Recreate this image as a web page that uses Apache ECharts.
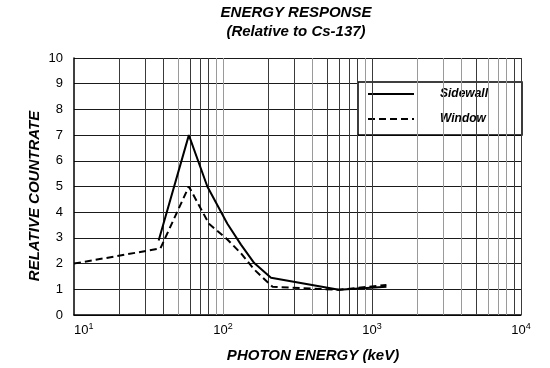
<!DOCTYPE html>
<html>
<head>
<meta charset="utf-8">
<script src="https://cdn.jsdelivr.net/npm/echarts@6/dist/echarts.min.js"></script>
<style>html,body{margin:0;padding:0;background:#fff;}#c{width:550px;height:368px;}</style>
</head>
<body>
<div id="c"></div>
<script>
// Energy (keV) and relative count rate
const sidewallEnergy = [37, 59, 78.5, 107, 132, 162, 210, 600, 1250];
const sidewallRate   = [2.9, 7.0, 5.0, 3.55, 2.74, 2.02, 1.45, 0.98, 1.1];
const windowEnergy = [10, 38, 59, 80.5, 107, 132, 162, 215, 600, 1250];
const windowRate   = [2.0, 2.59, 5.0, 3.55, 2.94, 2.4, 1.77, 1.1, 0.98, 1.17];
const seriesNames = ['Sidewall', 'Window'];
const yTicks = [0, 1, 2, 3, 4, 5, 6, 7, 8, 9, 10];
// vertical grid lines (log decades and subdivisions)
const darkGridX = [20, 30, 40, 60, 70, 80, 200, 300, 500, 600, 700, 800, 1000, 5000, 9000, 10000];
const greyGridX = [50, 90, 100, 400, 900, 2000, 3000, 4000, 6000, 7000, 8000];

const FONT = '"Liberation Sans", Arial, sans-serif';
const zip = (xs, ys) => xs.map((x, i) => [x, ys[i]]);

const chart = echarts.init(document.getElementById('c'), null, {renderer: 'canvas'});
const gridLines = darkGridX.map(v => ({xAxis: v, lineStyle: {color: '#3a3a3a', width: 1, type: 'solid'}}))
  .concat(greyGridX.map(v => ({xAxis: v, lineStyle: {color: '#9a9a9a', width: 1, type: 'solid'}})));

chart.setOption({
  animation: false,
  backgroundColor: '#fff',
  grid: {left: 74, right: 29, top: 58, bottom: 53, containLabel: false},
  graphic: [
    {type: 'text', x: 296, y: 13, style: {text: 'ENERGY RESPONSE', font: 'italic bold 15px ' + FONT, fill: '#000', align: 'center', verticalAlign: 'middle'}},
    {type: 'text', x: 296, y: 32, style: {text: '(Relative to Cs-137)', font: 'italic bold 15px ' + FONT, fill: '#000', align: 'center', verticalAlign: 'middle'}},
    {type: 'text', x: 313, y: 356, style: {text: 'PHOTON ENERGY (keV)', font: 'italic bold 15px ' + FONT, fill: '#000', align: 'center', verticalAlign: 'middle'}},
    {type: 'text', x: 35, y: 196, rotation: Math.PI / 2, style: {text: 'RELATIVE COUNTRATE', font: 'italic bold 15px ' + FONT, fill: '#000', align: 'center', verticalAlign: 'middle'}}
  ],
  legend: {
    data: seriesNames,
    orient: 'vertical',
    left: 358, top: 82,
    itemWidth: 46, itemHeight: 12, itemGap: 13,
    padding: [6, 34, 10, 9],
    backgroundColor: '#fff', borderColor: '#000', borderWidth: 1.5, borderRadius: 0,
    itemStyle: {opacity: 0},
    textStyle: {fontFamily: FONT, fontSize: 12, fontWeight: 'bold', fontStyle: 'italic', color: '#000', padding: [0, 0, 0, 21]},
    selectedMode: false
  },
  xAxis: {
    type: 'log', logBase: 10, min: 10, max: 10000,
    axisLine: {show: true, lineStyle: {color: '#000', width: 1.5}},
    axisTick: {show: false},
    splitLine: {show: false},
    minorSplitLine: {show: false},
    axisLabel: {
      margin: 7, color: '#000', fontFamily: FONT, fontSize: 13,
      alignMinLabel: 'left',
      formatter: v => '10{s|' + Math.round(Math.log10(v)) + '}',
      rich: {s: {fontSize: 9, fontFamily: FONT, color: '#000', verticalAlign: 'top', padding: [0, 0, 8, 0]}}
    }
  },
  yAxis: {
    type: 'value', min: yTicks[0], max: yTicks[yTicks.length - 1], interval: 1,
    axisLine: {show: true, lineStyle: {color: '#000', width: 1.5}},
    axisTick: {show: false},
    splitLine: {show: true, lineStyle: {color: '#1a1a1a', width: 1}},
    axisLabel: {margin: 11, color: '#000', fontFamily: FONT, fontSize: 13}
  },
  series: [
    {
      name: '__grid', type: 'line', data: [], z: 1, silent: true,
      markLine: {silent: true, symbol: ['none', 'none'], label: {show: false}, animation: false, data: gridLines}
    },
    {
      name: seriesNames[0], type: 'line', data: zip(sidewallEnergy, sidewallRate),
      symbol: 'none', z: 5, color: '#000',
      lineStyle: {color: '#000', width: 2, type: 'solid'}
    },
    {
      name: seriesNames[1], type: 'line', data: zip(windowEnergy, windowRate),
      symbol: 'none', z: 5, color: '#000',
      lineStyle: {color: '#000', width: 2, type: [7, 4]}
    }
  ]
});
</script>
</body>
</html>
